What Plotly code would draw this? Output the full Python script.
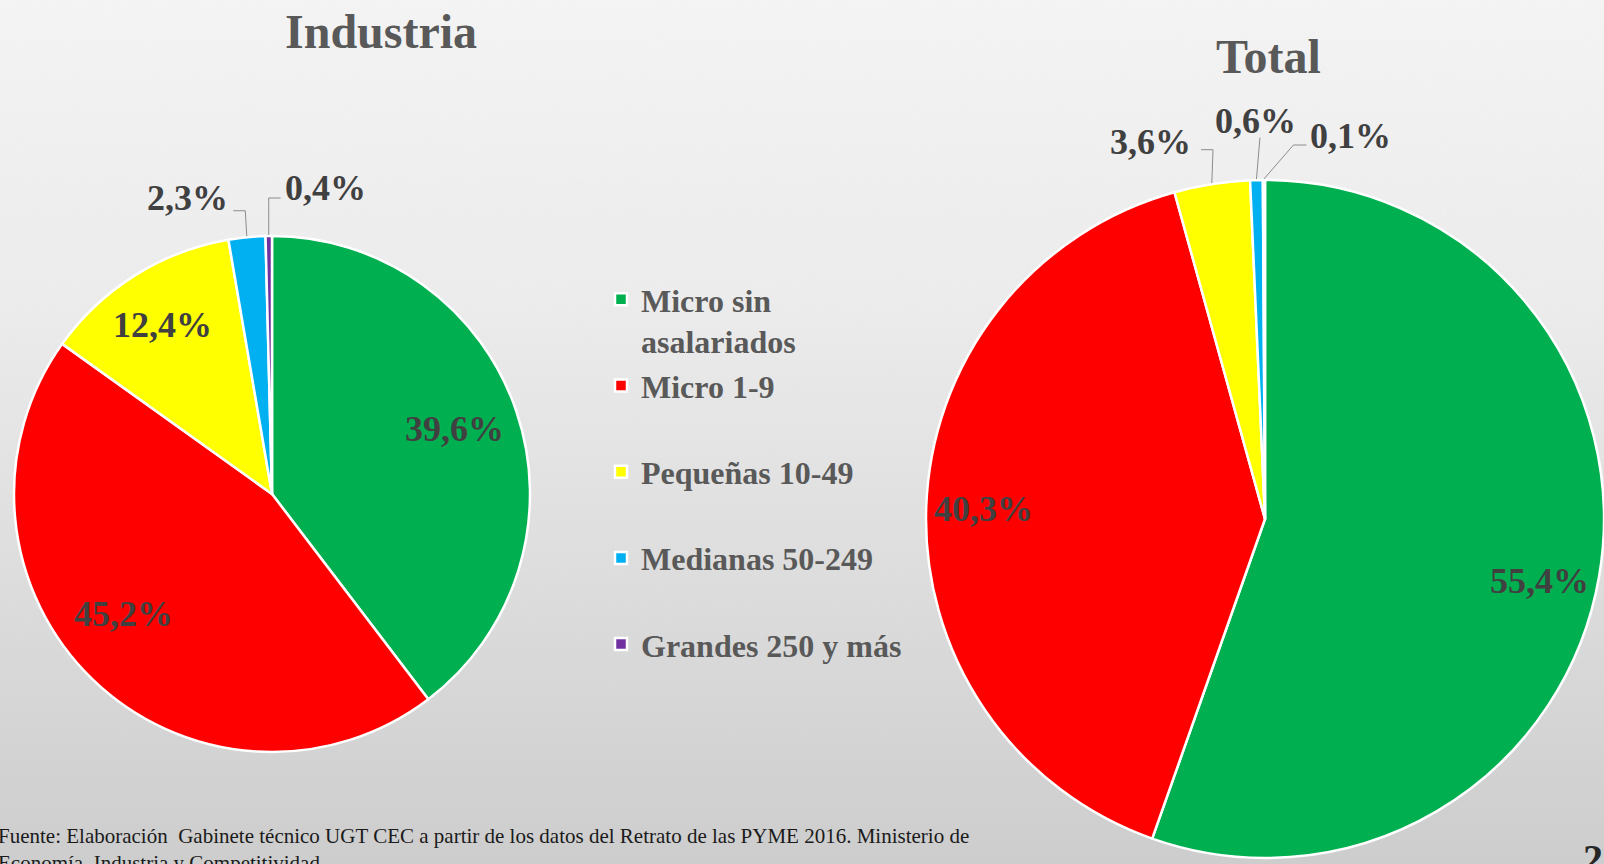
import math
import base64
import plotly.graph_objects as go

# ---------------- data ----------------
categories = ["Micro sin<br>asalariados", "Micro 1-9<br>\u00a0", "Pequeñas 10-49<br>\u00a0",
              "Medianas 50-249<br>\u00a0", "Grandes 250 y más<br>\u00a0"]
industria_values = [39.6, 45.2, 12.4, 2.3, 0.4]
total_values = [55.4, 40.3, 3.6, 0.6, 0.1]
colors = ["#00B050", "#FF0000", "#FFFF00", "#00B0F0", "#7030A0"]
chart_titles = ["Industria", "Total"]
source_text = ("Fuente: Elaboración  Gabinete técnico UGT CEC a partir de los datos del Retrato de las PYME 2016. "
               "Ministerio de<br>Economía, Industria y Competitividad")
page_number = "27"

# ---------------- layout helpers ----------------
W, H = 1604, 864
SERIF = "Liberation Serif, Times New Roman, serif"
LABEL_COLOR = "#404040"


def fmt(v):
    return f"{v:.1f}".replace(".", ",") + "%"


def paper(x, y):
    return x / W, 1 - y / H


def mid_angles(values):
    tot = sum(values)
    out, cum = [], 0.0
    for v in values:
        out.append((cum + v / 2) / tot * 360.0)
        cum += v
    return out


def pt(cx, cy, r, ang):
    a = math.radians(ang)
    return cx + r * math.sin(a), cy - r * math.cos(a)


# inside: index -> (radius fraction, angular nudge in degrees)
pies = [
    dict(values=industria_values, cx=272, cy=494, r=258, title_xy=(381, 32),
         inside={0: (0.75, -1), 1: (0.74, 7), 2: (0.78, -1)},
         outside={3: dict(elbow=(-1.5, -25.5), h=-12, txt=(-15, -13), anchor="right"),
                  4: dict(elbow=(0, -37), h=12, txt=(14, -10), anchor="left")}),
    dict(values=total_values, cx=1265, cy=519, r=339, title_xy=(1268, 57),
         inside={0: (0.83, 3), 1: (0.83, 0)},
         outside={2: dict(elbow=(1.2, -33.5), h=-12, txt=(-20, -8), anchor="right"),
                  3: dict(elbow=(3.5, -41.5), h=0, txt=(-4, -17), anchor="center"),
                  4: dict(elbow=(29.5, -34), h=13, txt=(15, -9), anchor="left")}),
]

fig = go.Figure()
annotations = []
shapes = []

for i, p in enumerate(pies):
    x0, y1 = paper(p["cx"] - p["r"], p["cy"] - p["r"])
    x1, y0 = paper(p["cx"] + p["r"], p["cy"] + p["r"])
    fig.add_trace(go.Pie(
        labels=categories, values=p["values"],
        sort=False, direction="clockwise", rotation=0,
        marker=dict(colors=colors, line=dict(color="white", width=2.5)),
        textinfo="none", hoverinfo="label+percent",
        domain=dict(x=[max(0, x0), min(1, x1)], y=[max(0, y0), min(1, y1)]),
        showlegend=(i == 0),
    ))
    angs = mid_angles(p["values"])
    for k, (frac, nudge) in p["inside"].items():
        x, y = pt(p["cx"], p["cy"], p["r"] * frac, angs[k] + nudge)
        xp, yp = paper(x, y)
        annotations.append(dict(x=xp, y=yp, xref="paper", yref="paper", showarrow=False,
                                text=fmt(p["values"][k]), xanchor="center", yanchor="middle",
                                font=dict(family=SERIF, size=36, color=LABEL_COLOR, weight="bold")))
    for k, spec in p["outside"].items():
        ex, ey = pt(p["cx"], p["cy"], p["r"] + 1, angs[k])
        bx, by = ex + spec["elbow"][0], ey + spec["elbow"][1]
        hx = bx + spec["h"]
        pts = [paper(ex, ey), paper(bx, by), paper(hx, by)]
        path = "M {:.5f},{:.5f} L {:.5f},{:.5f} L {:.5f},{:.5f}".format(*pts[0], *pts[1], *pts[2])
        shapes.append(dict(type="path", path=path, xref="paper", yref="paper",
                           line=dict(color="#8c8c8c", width=1)))
        tx, ty = paper(bx + spec["txt"][0], by + spec["txt"][1])
        annotations.append(dict(x=tx, y=ty, xref="paper", yref="paper", showarrow=False,
                                text=fmt(p["values"][k]), xanchor=spec["anchor"], yanchor="middle",
                                font=dict(family=SERIF, size=36, color=LABEL_COLOR, weight="bold")))
    tx, ty = paper(*p["title_xy"])
    annotations.append(dict(x=tx, y=ty, xref="paper", yref="paper", showarrow=False,
                            text=chart_titles[i], xanchor="center", yanchor="middle",
                            font=dict(family=SERIF, size=48, color="#595959", weight="bold")))

# source note and page number
sx, sy = paper(-4, 822)
annotations.append(dict(x=sx, y=sy, xref="paper", yref="paper", showarrow=False, text=source_text,
                        xanchor="left", yanchor="top", align="left",
                        font=dict(family=SERIF, size=21, color="#1a1a1a")))
nx, ny = paper(1581, 834)
annotations.append(dict(x=nx, y=ny, xref="paper", yref="paper", showarrow=False, text=page_number,
                        xanchor="left", yanchor="top",
                        font=dict(family=SERIF, size=40, color="#262626", weight="bold")))

# gradient background as an SVG image
svg = f"""<svg xmlns='http://www.w3.org/2000/svg' width='{W}' height='{H}' viewBox='0 0 {W} {H}' preserveAspectRatio='none'>
<defs><linearGradient id='g' x1='0' y1='0' x2='0' y2='1'>
<stop offset='0' stop-color='#f6f6f6'/><stop offset='0.35' stop-color='#eeeeee'/>
<stop offset='0.7' stop-color='#dddddd'/><stop offset='1' stop-color='#cecece'/>
</linearGradient>
<filter id='n'><feTurbulence type='fractalNoise' baseFrequency='0.9' numOctaves='2' seed='3'/>
<feColorMatrix type='matrix' values='0 0 0 0 0.5  0 0 0 0 0.5  0 0 0 0 0.5  0 0 0 0.18 0'/></filter></defs>
<rect width='{W}' height='{H}' fill='url(#g)'/>
<rect width='{W}' height='{H}' filter='url(#n)' opacity='0.5'/>
</svg>"""
bg_src = "data:image/svg+xml;base64," + base64.b64encode(svg.encode("utf-8")).decode("ascii")

lx, ly = paper(601, 272)
fig.update_layout(
    width=W, height=H, autosize=False,
    margin=dict(l=0, r=0, t=0, b=0),
    paper_bgcolor="#e4e4e4", plot_bgcolor="rgba(0,0,0,0)",
    images=[dict(source=bg_src, xref="paper", yref="paper", x=0, y=1, sizex=1, sizey=1,
                 xanchor="left", yanchor="top", sizing="stretch", layer="below")],
    legend=dict(x=lx, y=ly, xanchor="left", yanchor="top", bgcolor="rgba(0,0,0,0)",
                valign="top", traceorder="normal",
                font=dict(family=SERIF, size=32, color="#595959", weight="bold")),
    annotations=annotations,
    shapes=shapes,
)

fig.write_html("out.html", config={"displayModeBar": False},
               post_script="document.body.style.margin='0';document.body.style.overflow='hidden';")
